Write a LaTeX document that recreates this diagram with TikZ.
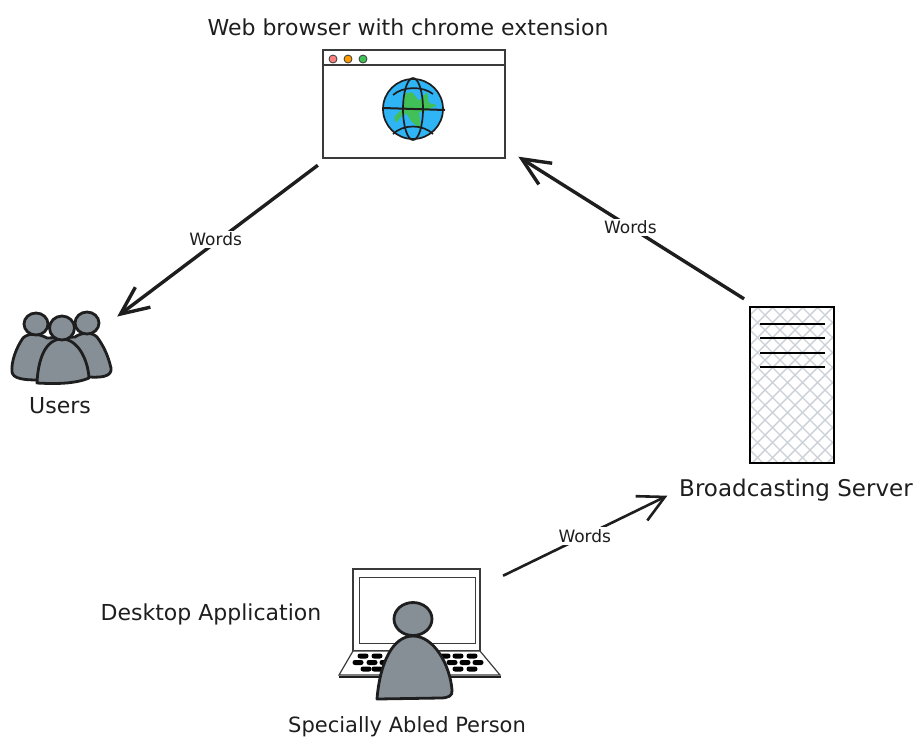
\documentclass[tikz,border=0pt]{standalone}
\usepackage{fontspec}
\setmainfont{DejaVu Sans}
\usetikzlibrary{arrows.meta}
\definecolor{personGray}{HTML}{868E96}
\definecolor{inkBlack}{HTML}{1E1E1E}
\definecolor{frameGray}{HTML}{3A3A3A}
\definecolor{hatchGray}{HTML}{CBD1D7}
\definecolor{globeBlue}{HTML}{2FB4F5}
\definecolor{landGreen}{HTML}{40C057}
\tikzset{
>={Straight Barb[length=28pt,width=25pt]},
  caption/.style={
    text=inkBlack,
    inner sep=0pt,
    font=\fontsize{22}{26}\selectfont},
  word/.style={
    fill=white,
    text=inkBlack,
    inner sep=2pt,
    font=\fontsize{17}{20}\selectfont},
  flow/.style={->, draw=inkBlack, line width=3.4pt},
  thinflow/.style={draw=inkBlack, line width=2.6pt, -{Straight Barb[length=26pt,width=27pt]}},
  frame/.style={
    rectangle,
    draw=frameGray,
    line width=1.2pt,
    inner sep=0pt},
  region/.style={rectangle, inner sep=0pt},
  head/.style={ellipse, draw=inkBlack, fill=personGray, line width=2.8pt, inner sep=0pt},
  body/.style={draw=inkBlack, fill=personGray, line width=2.8pt, line join=round},
  lamp/.style={circle, draw=frameGray, line width=.8pt, minimum size=8pt, inner sep=0pt},
  key/.style={fill=black, rounded corners=2.4pt},
  slot/.style={draw=black, line width=2.2pt},
  globeline/.style={draw=inkBlack, line width=1.7pt},
}
\usetikzlibrary{shapes.geometric}
\begin{document}
\begin{tikzpicture}[x=1pt,y=-1pt]
     \useasboundingbox (0,0) rectangle (915,740);

     % browser
     \node[frame, minimum width=182pt, minimum height=108pt] (Browser) at (414,104) {};
     \draw[frameGray, line width=2.2pt] (322,65) -- (506,65);
     \node[lamp, fill=red!50!white] (LampRed) at (333,59) {};
     \node[lamp, fill=orange!80!yellow] (LampOrange) at (348,59) {};
     \node[lamp, fill=landGreen] (LampGreen) at (363,59) {};
     \node[circle, fill=globeBlue, minimum size=60pt, inner sep=0pt] (Globe) at (413,109) {};
     \fill[landGreen, rounded corners=1pt] (404,94) -- (412,92) -- (419,101) -- (427,92) -- (429,103)
       -- (437,105) -- (426,111) -- (419,112) -- (421,130) -- (411,121) -- (407,114) -- (403,114)
       -- (396,123) -- (394,117) -- (403,108) -- cycle;
     \draw[globeline] (Globe) circle (30);
     \draw[globeline] (Globe) ellipse (10 and 31);
     \draw[globeline] (393,95) .. controls (403,86) and (423,86) .. (433,94);
     \draw[globeline] (393,134) .. controls (403,124) and (423,124) .. (433,134);
     \draw[inkBlack, line width=2pt] (383,108) -- (445,110);
     \node[caption] (BrowserText) at (408,27) {Web browser with chrome extension};

     % users
     \node[region, minimum width=112pt, minimum height=78pt] (Users) at (61,349) {};
     \path[body] (47,338) .. controls (38,333) and (28,333) .. (23,338) .. controls (16,348) and (11,362) .. (12,372)
       .. controls (13,379) and (25,380) .. (38,380) -- (90,377) .. controls (105,378) and (112,375) .. (111,368)
       .. controls (108,355) and (103,345) .. (97,337) .. controls (92,332) and (82,332) .. (75,337) -- cycle;
     \node[head, minimum width=24pt, minimum height=22pt] (HeadLeft) at (36,324) {};
     \node[head, minimum width=24pt, minimum height=22pt] (HeadRight) at (87,323) {};
     \path[body] (62,339) .. controls (45,339) and (38,360) .. (37,383) .. controls (55,384) and (75,384) .. (89,378)
       .. controls (88,360) and (78,339) .. (62,339) -- cycle;
     \node[head, minimum width=25pt, minimum height=24pt] (HeadMid) at (62,328) {};
     \node[caption] (UsersText) at (60,406) {Users};

     % server
     \begin{scope}
       \clip (750,307) rectangle (834,463);
       \foreach \i in {0,...,17} {
         \draw[hatchGray, line width=1.4pt] (735+15*\i,300) -- ++(-170,170);
         \draw[hatchGray, line width=1.4pt] (600+15*\i,300) -- ++(170,170);
       }
     \end{scope}
     \node[frame, draw=black, line width=2.4pt, minimum width=84pt, minimum height=156pt] (Server) at (792,385) {};
     \foreach \y in {324,338,353,367}
       \draw[slot] (760,\y) -- (825,\y);
     \node[caption, font=\fontsize{23}{26}\selectfont] (ServerText) at (796,490) {Broadcasting Server};

     % laptop
     \node[frame, minimum width=127pt, minimum height=82pt] (Laptop) at (416.5,610) {};
     \node[frame, line width=1pt, minimum width=116pt, minimum height=66pt] (LaptopScreen) at (417,610) {};
     \draw[frameGray, line width=1.2pt, fill=white] (353,651) -- (480,651) -- (500,675) -- (339,675) -- cycle;
     \draw[inkBlack, line width=2.8pt] (339,677) -- (501,677);
     \foreach \x in {363,377,445,458,472} \fill[key] (\x-5.5,653.5) rectangle (\x+5.5,658.5);
     \foreach \x in {358,372,385,452,465,478} \fill[key] (\x-5.5,660) rectangle (\x+5.5,665);
     \foreach \x in {366,377,458,472} \fill[key] (\x-5.5,666.5) rectangle (\x+5.5,671.5);
     \node[head, minimum width=38pt, minimum height=33pt] (PersonHead) at (413,619) {};
     \path[body] (413,636) .. controls (393,636) and (380,662) .. (377,699) -- (440,698)
       .. controls (448,698) and (453,696) .. (452,690) .. controls (450,665) and (434,636) .. (413,636) -- cycle;
     \node[caption] (AppText) at (211,614) {Desktop Application};
     \node[caption, font=\fontsize{21}{26}\selectfont] (PersonText) at (407,727) {Specially Abled Person};

     % connectors
     \draw[flow, shorten <=11pt] (Browser.212) -- node[word, pos=.53, yshift=3pt] (WordsA) {Words} (Users.30);
     \draw[flow, shorten <=13pt, shorten >=15pt] (Server.115) -- node[word, pos=.5] (WordsB) {Words} (Browser.334);
     \draw[thinflow, shorten <=25pt, shorten >=13pt] (Laptop.20) -- node[word, pos=.525] (WordsC) {Words} (ServerText.west);
\end{tikzpicture}
\end{document}
